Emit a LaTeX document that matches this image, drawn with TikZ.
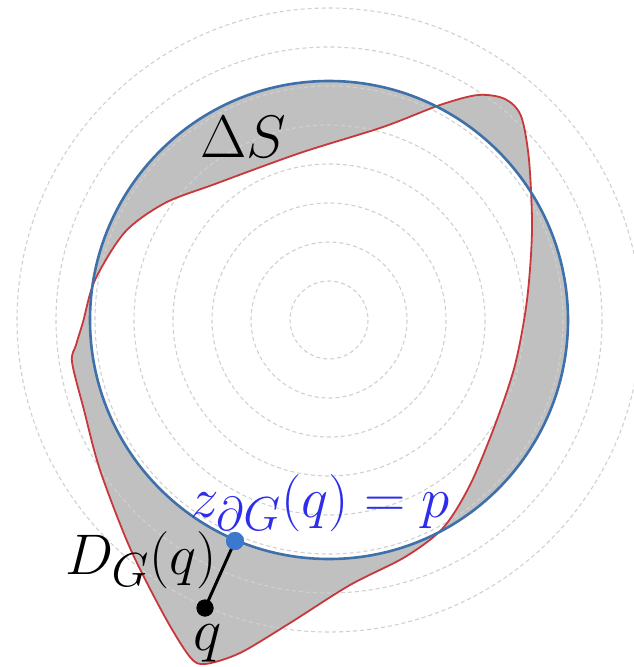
\documentclass[tikz,border=0pt]{standalone}
\definecolor{circblue}{RGB}{62,112,170}
\definecolor{curvered}{RGB}{200,55,60}
\definecolor{bandgray}{RGB}{192,192,192}
\definecolor{ringgray}{RGB}{208,208,208}
\definecolor{labelblue}{RGB}{45,45,235}
\definecolor{dotblue}{RGB}{60,120,205}
\tikzset{
  ring/.style={draw=ringgray, line width=1.1pt, dash pattern=on 4pt off 3pt},
  band/.style={fill=bandgray, even odd rule},
  redcurve/.style={draw=curvered, line width=1.8pt},
  bluecirc/.style={draw=circblue, line width=2.6pt},
  dotstyle/.style={circle, inner sep=0pt, minimum size=18pt},
  lbl/.style={inner sep=0pt, font=\Huge, scale=2.41},
  lbls/.style={inner sep=0pt, font=\Huge, scale=2.3}
}
\begin{document}
\begin{tikzpicture}[x=1pt,y=-1pt]
\useasboundingbox (0,0) rectangle (633,667);
\coordinate (o) at (329,320);
% gray band = symmetric difference of disc and red region
\path[band] (o) circle (239)
  plot[smooth cycle, tension=0.5] coordinates {
  (83,322) (95,280) (125,232) (165,203) (215,184) (300,153) (383,127) (440,105)
  (478,95) (505,99) (521,116) (529,160) (532,230) (527,300) (515,365) (495,425)
  (470,485) (443,528) (405,557) (350,585) (290,623) (240,653) (205,664) (190,657)
  (165,617) (130,548) (100,470) (84,410) (72,362) (76,345)};
% dashed concentric rings
\foreach \k in {1,...,8} {
  \draw[ring] (o) circle ({39*\k});
}
% red boundary
\draw[redcurve] plot[smooth cycle, tension=0.5] coordinates {
  (83,322) (95,280) (125,232) (165,203) (215,184) (300,153) (383,127) (440,105)
  (478,95) (505,99) (521,116) (529,160) (532,230) (527,300) (515,365) (495,425)
  (470,485) (443,528) (405,557) (350,585) (290,623) (240,653) (205,664) (190,657)
  (165,617) (130,548) (100,470) (84,410) (72,362) (76,345)};
% blue circle
\draw[bluecirc] (o) circle (239);
% distance segment
\node[dotstyle, fill=dotblue] (p) at (235,541) {};
\node[dotstyle, fill=black, minimum size=17pt] (q) at (205,608) {};
\draw[line width=3pt] (p.center) -- (q.center);
\node[dotstyle, fill=dotblue] at (p.center) {};
\node[dotstyle, fill=black, minimum size=17pt] at (q.center) {};
% labels
\node[lbl, anchor=base west] (dS) at (200,157) {$\Delta S$};
\node[lbls, anchor=base, text=labelblue] (zl) at (320,517) {$z_{\partial G}(q)=p$};
\node[lbls, anchor=base] (dl) at (141,574) {$D_G(q)$};
\node[lbl, anchor=base] (ql) at (208,650) {$q$};
\end{tikzpicture}
\end{document}
